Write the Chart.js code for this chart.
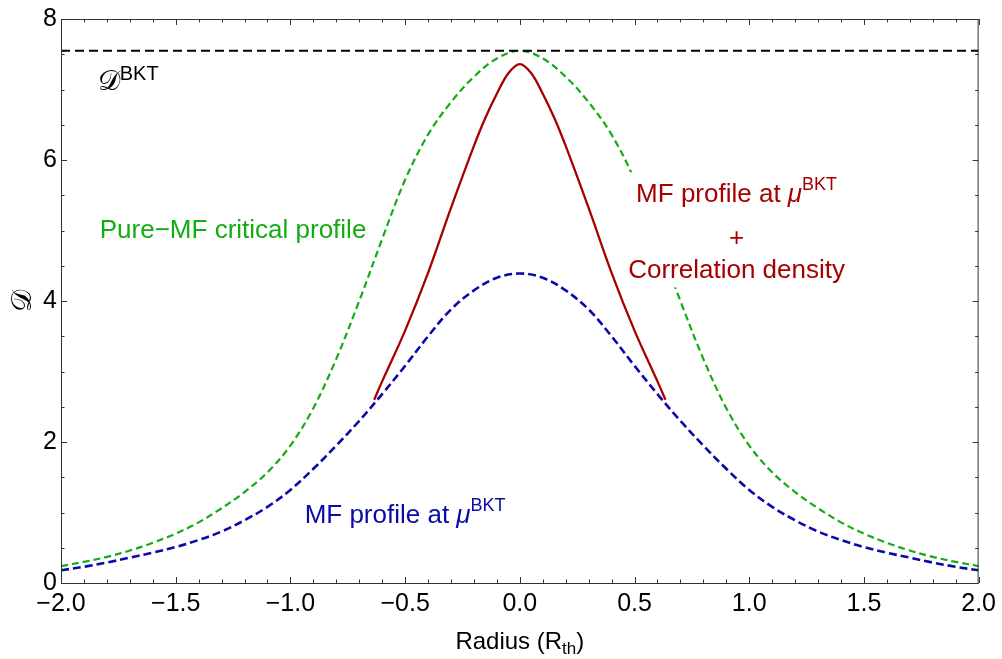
<!DOCTYPE html>
<html>
<head>
<meta charset="utf-8">
<title>BKT density profiles</title>
<script src="https://cdn.jsdelivr.net/npm/chart.js@4.4.1/dist/chart.umd.min.js"></script>
<style>
  html, body { margin: 0; padding: 0; background: #fff; }
  #wrap { width: 1002px; height: 659px; position: relative; }
</style>
</head>
<body>
<div id="wrap"><canvas id="chart"></canvas></div>
<script>
// Radius grid, in units of R_th
const radius = [-2.0, -1.9, -1.8, -1.7, -1.6, -1.5, -1.4, -1.3, -1.2, -1.1, -1.0,
                -0.9, -0.8, -0.7, -0.6, -0.5, -0.4, -0.3, -0.2, -0.1, 0.0,
                0.1, 0.2, 0.3, 0.4, 0.5, 0.6, 0.7, 0.8, 0.9, 1.0,
                1.1, 1.2, 1.3, 1.4, 1.5, 1.6, 1.7, 1.8, 1.9, 2.0];

// Pure-MF critical profile (green, dashed)
const pureMfCritical = [0.24, 0.30, 0.37, 0.46, 0.57, 0.70, 0.86, 1.06, 1.29, 1.57, 1.95,
                        2.48, 3.18, 4.00, 4.88, 5.72, 6.36, 6.82, 7.18, 7.44, 7.55,
                        7.44, 7.18, 6.82, 6.36, 5.72, 4.88, 4.00, 3.18, 2.48, 1.95,
                        1.57, 1.29, 1.06, 0.86, 0.70, 0.57, 0.46, 0.37, 0.30, 0.24];

// MF profile at mu_BKT (blue, dashed)
const mfAtBkt = [0.18, 0.23, 0.29, 0.36, 0.43, 0.51, 0.61, 0.73, 0.89, 1.08, 1.32,
                 1.62, 1.95, 2.30, 2.68, 3.08, 3.50, 3.88, 4.15, 4.33, 4.39,
                 4.33, 4.15, 3.88, 3.50, 3.08, 2.68, 2.30, 1.95, 1.62, 1.32,
                 1.08, 0.89, 0.73, 0.61, 0.51, 0.43, 0.36, 0.29, 0.23, 0.18];

// MF profile + correlation density (red, solid), only in the centre
const corrRadius = [-0.635, -0.6, -0.5, -0.4, -0.3, -0.2, -0.15, -0.1, -0.05, 0.0,
                    0.05, 0.1, 0.15, 0.2, 0.3, 0.4, 0.5, 0.6, 0.635];
const mfPlusCorrelation = [2.60, 2.86, 3.58, 4.40, 5.32, 6.20, 6.60, 6.94, 7.23, 7.36,
                           7.23, 6.94, 6.60, 6.20, 5.32, 4.40, 3.58, 2.86, 2.60];

// Critical value D^BKT (black, dashed)
const bktRadius = [-2.0, 2.0];
const bktLevel = [7.55, 7.55];

const FONT = '"Liberation Sans", Arial, sans-serif';
const GREEN = '#13ad13';
const BLUE = '#0a0aa6';
const RED = '#a80000';

function toPoints(xs, ys) {
    return xs.map((x, i) => ({ x: x, y: ys[i] }));
}

// Draw a row of text pieces (for super/subscripts)
function drawRuns(ctx, runs, x, y, align, color) {
    let total = 0;
    runs.forEach(r => {
        ctx.font = r.font;
        r.w = ctx.measureText(r.text).width;
        total += r.w;
    });
    let cx = align === 'center' ? x - total / 2 : x;
    const left = cx;
    ctx.fillStyle = color;
    ctx.textBaseline = 'alphabetic';
    ctx.textAlign = 'left';
    runs.forEach(r => {
        ctx.font = r.font;
        ctx.fillText(r.text, cx, y + (r.dy || 0));
        cx += r.w;
    });
    return { left: left, right: left + total };
}

// Frame on four sides with inward major/minor ticks
const frameTicks = {
    id: 'frameTicks',
    afterDraw(chart) {
        const { ctx, chartArea: a, scales: { x, y } } = chart;
        ctx.save();
        ctx.strokeStyle = '#333';
        ctx.lineWidth = 1;
        ctx.strokeRect(a.left + 0.5, a.top + 0.5, a.right - a.left - 1, a.bottom - a.top);
        ctx.beginPath();
        for (let i = 0; i <= 40; i++) {
            const px = Math.round(x.getPixelForValue(-2 + i * 0.1)) + 0.5;
            const len = i % 5 === 0 ? 6 : 3.5;
            ctx.moveTo(px, a.bottom); ctx.lineTo(px, a.bottom - len);
            ctx.moveTo(px, a.top); ctx.lineTo(px, a.top + len);
        }
        for (let i = 0; i <= 16; i++) {
            const py = Math.round(y.getPixelForValue(i * 0.5)) + 0.5;
            const len = i % 4 === 0 ? 6 : 3.5;
            ctx.moveTo(a.left, py); ctx.lineTo(a.left + len, py);
            ctx.moveTo(a.right, py); ctx.lineTo(a.right - len, py);
        }
        ctx.stroke();

        // axis titles
        drawRuns(ctx, [
            { text: 'Radius (R', font: '24px ' + FONT },
            { text: 'th', font: '17px ' + FONT, dy: 5 },
            { text: ')', font: '24px ' + FONT }
        ], (a.left + a.right) / 2, 649, 'center', '#000');

        ctx.translate(31, (a.top + a.bottom) / 2);
        ctx.rotate(-Math.PI / 2);
        drawRuns(ctx, [{ text: '𝒟', font: '28px "DejaVu Serif", serif' }], 0, 0, 'center', '#000');
        ctx.restore();
    }
};

// Curve labels
const curveLabels = {
    id: 'curveLabels',
    afterDatasetsDraw(chart) {
        const { ctx, scales: { x, y } } = chart;
        ctx.save();

        drawRuns(ctx, [
            { text: '𝒟', font: '28px "DejaVu Serif", serif' },
            { text: 'BKT', font: '20px ' + FONT, dy: -10 }
        ], x.getPixelForValue(-1.84), y.getPixelForValue(7.0), 'left', '#000');

        drawRuns(ctx, [{ text: 'Pure\u2212MF critical profile', font: '26px ' + FONT }],
            x.getPixelForValue(-1.25), y.getPixelForValue(4.89), 'center', GREEN);

        // red block sits on a white box that hides the green line
        const cx = x.getPixelForValue(0.945);
        const b1 = y.getPixelForValue(5.40);
        const b3 = y.getPixelForValue(4.32);
        ctx.font = '26px ' + FONT;
        const w = ctx.measureText('Correlation density').width;
        ctx.fillStyle = '#fff';
        ctx.fillRect(cx - w / 2 - 3, b1 - 30, w + 6, b3 - b1 + 39);

        const mfRuns = [
            { text: 'MF profile at ', font: '26px ' + FONT },
            { text: 'μ', font: 'italic 26px ' + FONT },
            { text: 'BKT', font: '18px ' + FONT, dy: -12 }
        ];
        drawRuns(ctx, mfRuns, cx, b1, 'center', RED);
        drawRuns(ctx, [{ text: '+', font: '26px ' + FONT }], cx, (b1 + b3) / 2 + 6, 'center', RED);
        drawRuns(ctx, [{ text: 'Correlation density', font: '26px ' + FONT }], cx, b3, 'center', RED);

        drawRuns(ctx, mfRuns, x.getPixelForValue(-0.50), y.getPixelForValue(0.85), 'center', BLUE);
        ctx.restore();
    }
};

const ctx = document.getElementById('chart').getContext('2d');
new Chart(ctx, {
    type: 'line',
    data: {
        datasets: [
            {
                label: 'D_BKT',
                data: toPoints(bktRadius, bktLevel),
                borderColor: '#000',
                borderWidth: 2.2,
                borderDash: [9, 5]
            },
            {
                label: 'MF + correlation',
                data: toPoints(corrRadius, mfPlusCorrelation),
                borderColor: RED,
                borderWidth: 2.3,
                tension: 0.35
            },
            {
                label: 'Pure-MF critical',
                data: toPoints(radius, pureMfCritical),
                borderColor: GREEN,
                borderWidth: 2.2,
                borderDash: [7, 4],
                tension: 0.35
            },
            {
                label: 'MF at mu_BKT',
                data: toPoints(radius, mfAtBkt),
                borderColor: BLUE,
                borderWidth: 2.6,
                borderDash: [8, 4],
                tension: 0.35
            }
        ]
    },
    options: {
        responsive: true,
        maintainAspectRatio: false,
        animation: false,
        layout: { padding: { top: 18, right: 23, left: 0, bottom: 0 } },
        elements: { point: { radius: 0 } },
        plugins: {
            legend: { display: false },
            tooltip: { enabled: false }
        },
        scales: {
            x: {
                type: 'linear',
                min: -2,
                max: 2,
                afterFit: (s) => { s.height = 76; },
                grid: { display: false, drawTicks: false },
                border: { display: false },
                ticks: {
                    stepSize: 0.5,
                    autoSkip: false,
                    maxRotation: 0,
                    padding: 6,
                    color: '#000',
                    font: { family: FONT, size: 25 },
                    callback: (v) => (v < 0 ? '\u2212' : '') + Math.abs(v).toFixed(1)
                }
            },
            y: {
                min: 0,
                max: 8,
                afterFit: (s) => { s.width = 61; },
                grid: { display: false, drawTicks: false },
                border: { display: false },
                ticks: {
                    stepSize: 2,
                    padding: 4,
                    color: '#000',
                    font: { family: FONT, size: 25 },
                    callback: (v) => String(v)
                }
            }
        }
    },
    plugins: [frameTicks, curveLabels]
});
</script>
</body>
</html>
